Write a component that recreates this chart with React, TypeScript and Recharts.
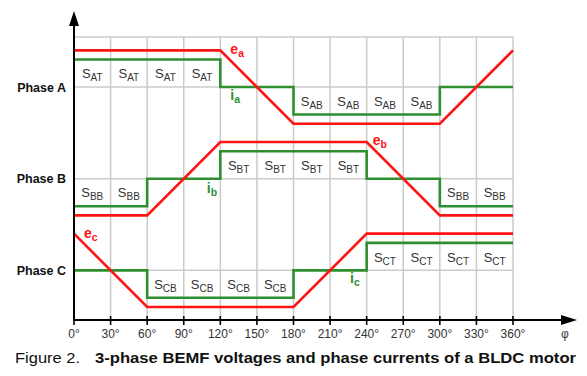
import { ComposedChart, Line, Scatter, XAxis, YAxis, CartesianGrid } from "recharts";

// corner angles of the trapezoid / step waveforms
const ANGLES = [0, 60, 120, 180, 240, 300, 360];
const AXIS_TICKS = [0, 30, 60, 90, 120, 150, 180, 210, 240, 270, 300, 330, 360];
const PHASES = ["A", "B", "C"];
const PHASE_NAMES = ["Phase A", "Phase B", "Phase C"];

// BEMF, normalized (-1..1), linear between corners
const E_A = [1, 1, 1, -1, -1, -1, 1];
const E_B = [-1, -1, 1, 1, 1, -1, -1];
const E_C = [1, -1, -1, -1, 1, 1, 1];

// phase currents, normalized, held until next corner
const I_A = [1, 1, 0, -1, -1, 0, 0];
const I_B = [-1, 0, 1, 1, 0, -1, -1];
const I_C = [0, -1, -1, 0, 1, 1, 1];

// wave name labels: anchor angle, phase, which wave and its value at the anchor
const WAVE_LABELS = [
  { name: "e", sub: "a", angle: 120, phase: 0, at: 1, kind: "e", dx: 10, dy: 4 },
  { name: "i", sub: "a", angle: 120, phase: 0, at: 0, kind: "i", dx: 10, dy: 13 },
  { name: "e", sub: "b", angle: 240, phase: 1, at: 1, kind: "e", dx: 6, dy: 3 },
  { name: "i", sub: "b", angle: 90, phase: 1, at: 0, kind: "i", dx: 23, dy: 14 },
  { name: "e", sub: "c", angle: 0, phase: 2, at: 1, kind: "e", dx: 10, dy: 4 },
  { name: "i", sub: "c", angle: 210, phase: 2, at: 0, kind: "i", dx: 20, dy: 13 },
];

const W = 587;
const H = 376;
const PLOT_LEFT = 74;
const PLOT_TOP = 37;
const PLOT_RIGHT = 513;
const PLOT_BOTTOM = 320;
const RED = "#ff1414";
const GREEN = "#2f8f2f";
const GRID = "#cbcbcb";
const E_AMP = 0.4;
const I_AMP = 0.3;

const level = (p: number) => 3 - p;
const I_ALL = [I_A, I_B, I_C];

const data = ANGLES.map((angle, k) => ({
  angle,
  ea: level(0) + E_AMP * E_A[k],
  eb: level(1) + E_AMP * E_B[k],
  ec: level(2) + E_AMP * E_C[k],
  ia: level(0) + I_AMP * I_A[k],
  ib: level(1) + I_AMP * I_B[k],
  ic: level(2) + I_AMP * I_C[k],
}));

// S_xT / S_xB switch labels in each 30° cell where the phase conducts
const switchLabels: { angle: number; y: number; sub: string }[] = [];
I_ALL.forEach((cur, p) => {
  for (let c = 0; c < 12; c++) {
    const v = cur[Math.floor(c / 2)];
    if (v !== 0) {
      switchLabels.push({
        angle: c * 30 + 15,
        y: level(p) + (I_AMP * v) / 2,
        sub: PHASES[p] + (v > 0 ? "T" : "B"),
      });
    }
  }
});

const waveLabels = WAVE_LABELS.map((l) => ({
  ...l,
  y: level(l.phase) + (l.kind === "e" ? E_AMP : I_AMP) * l.at,
}));

const font = "'Liberation Sans', Arial, sans-serif";

const SwitchShape = (props: any) => {
  const { cx, cy, payload } = props;
  return (
    <text x={cx} y={cy + 5} textAnchor="middle" fontFamily={font} fontSize={13} fill="#333">
      S
      <tspan fontSize={10} dy={3}>
        {payload.sub}
      </tspan>
    </text>
  );
};

const WaveShape = (props: any) => {
  const { cx, cy, payload } = props;
  return (
    <text
      x={cx + payload.dx}
      y={cy + payload.dy}
      fontFamily={font}
      fontWeight="bold"
      fontSize={14}
      fill={payload.kind === "e" ? RED : GREEN}
    >
      {payload.name}
      <tspan fontSize={10.5} dy={3}>
        {payload.sub}
      </tspan>
    </text>
  );
};

const XTick = (props: any) => {
  const { x, payload } = props;
  return (
    <g>
      <line x1={x} x2={x} y1={PLOT_BOTTOM - 4} y2={PLOT_BOTTOM + 5} stroke="#000" strokeWidth={1.6} />
      <text x={x} y={PLOT_BOTTOM + 18} textAnchor="middle" fontFamily={font} fontSize={12} fill="#333">
        {payload.value}°
      </text>
    </g>
  );
};

const YTick = (props: any) => {
  const { y, payload } = props;
  return (
    <text x={66} y={y + 4.5} textAnchor="end" fontFamily={font} fontWeight="bold" fontSize={12.5} fill="#111">
      {PHASE_NAMES[level(0) - payload.value]}
    </text>
  );
};

export default function App() {
  return (
    <div style={{ position: "absolute", left: 0, top: 0, width: W, height: H, background: "#fff" }}>
      <ComposedChart
        width={W}
        height={H}
        data={data}
        margin={{ top: PLOT_TOP, right: W - PLOT_RIGHT, bottom: 26, left: 0 }}
      >
        <CartesianGrid stroke={GRID} strokeWidth={1.5} />
        <XAxis
          dataKey="angle"
          type="number"
          domain={[0, 360]}
          ticks={AXIS_TICKS}
          interval={0}
          height={H - PLOT_BOTTOM - 26}
          axisLine={false}
          tickLine={false}
          tick={<XTick />}
        />
        <YAxis
          type="number"
          domain={[0.458, 3.546]}
          ticks={[1, 2, 3]}
          width={PLOT_LEFT}
          axisLine={false}
          tickLine={false}
          tick={<YTick />}
        />
        <Line dataKey="ia" type="stepAfter" stroke={GREEN} strokeWidth={2.6} dot={false} isAnimationActive={false} />
        <Line dataKey="ib" type="stepAfter" stroke={GREEN} strokeWidth={2.6} dot={false} isAnimationActive={false} />
        <Line dataKey="ic" type="stepAfter" stroke={GREEN} strokeWidth={2.6} dot={false} isAnimationActive={false} />
        <Line dataKey="ea" type="linear" stroke={RED} strokeWidth={2.6} dot={false} isAnimationActive={false} />
        <Line dataKey="eb" type="linear" stroke={RED} strokeWidth={2.6} dot={false} isAnimationActive={false} />
        <Line dataKey="ec" type="linear" stroke={RED} strokeWidth={2.6} dot={false} isAnimationActive={false} />
        <Scatter data={switchLabels} dataKey="y" shape={<SwitchShape />} isAnimationActive={false} />
        <Scatter data={waveLabels} dataKey="y" shape={<WaveShape />} isAnimationActive={false} />
      </ComposedChart>
      <svg width={W} height={H} style={{ position: "absolute", left: 0, top: 0, pointerEvents: "none" }}>
        {/* axes with arrow heads */}
        <line x1={PLOT_LEFT} x2={566} y1={PLOT_BOTTOM} y2={PLOT_BOTTOM} stroke="#000" strokeWidth={2} />
        <polygon points={`561,315 577,320 561,325`} fill="#000" />
        <line x1={PLOT_LEFT} x2={PLOT_LEFT} y1={PLOT_BOTTOM + 1} y2={22} stroke="#000" strokeWidth={2} />
        <polygon points={`69,26 74,11 79,26`} fill="#000" />
        <text x={565} y={338} textAnchor="middle" fontFamily={font} fontSize={12} fill="#333">
          φ
        </text>
        <text x={15} y={363} fontFamily={font} fontSize={15} fill="#111" textLength={65} lengthAdjust="spacingAndGlyphs">
          Figure 2.
        </text>
        <text
          x={95}
          y={363}
          fontFamily={font}
          fontWeight="bold"
          fontSize={15}
          fill="#111"
          textLength={481}
          lengthAdjust="spacingAndGlyphs"
        >
          3-phase BEMF voltages and phase currents of a BLDC motor
        </text>
      </svg>
    </div>
  );
}
